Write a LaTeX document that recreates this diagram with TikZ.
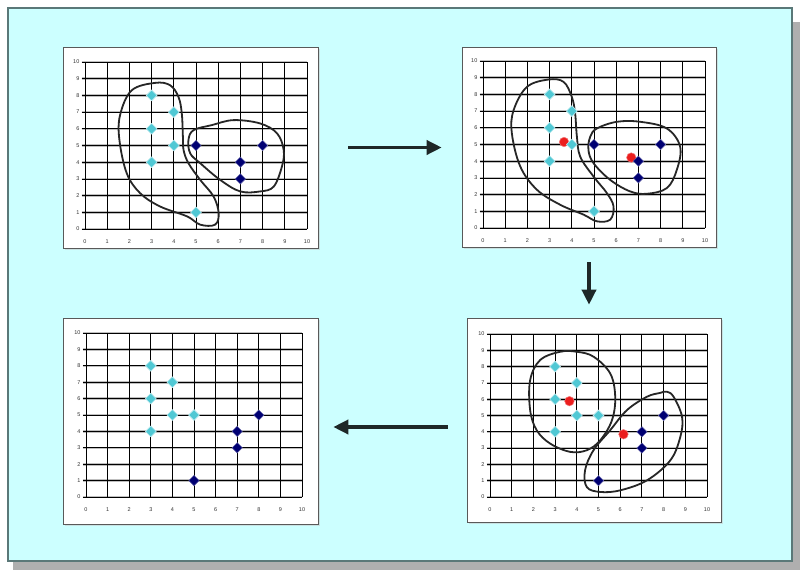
\documentclass[tikz,border=0pt]{standalone}
\usepackage{fontspec}
\setmainfont{Liberation Sans}
\definecolor{kmbg}{RGB}{204,255,255}
\definecolor{kmframe}{RGB}{90,120,120}
\definecolor{kmshadow}{RGB}{175,175,175}
\definecolor{kmcyan}{RGB}{80,200,212}
\definecolor{kmnavy}{RGB}{0,0,115}
\definecolor{kmred}{RGB}{235,30,30}
\definecolor{kmarrow}{RGB}{30,40,40}
\usetikzlibrary{arrows.meta,positioning,shapes.geometric,shadows}

% grid with axis labels, #1 = panel prefix
\newcommand{\kmgrid}[1]{%
  \foreach \k in {0,...,10} {
    \draw[gray!50,line width=2.6pt] (-0.15,\k) -- (10,\k);
    \draw[black,line width=0.75pt] (-0.15,\k) -- (10,\k);
    \node[ticklbl,anchor=east] (#1y\k) at (-0.2,\k) {\k};
  }
  \foreach \k in {0,...,10} {
    \draw[black,line width=1pt] (\k,0) -- (\k,10);
    \node[ticklbl] (#1x\k) at (\k,-0.78) {\k};
  }
}

\begin{document}
\begin{tikzpicture}[x=1pt,y=-1pt,
  panel/.style={draw=gray!70!black,fill=white,line width=0.6pt,inner sep=0pt,
    drop shadow={shadow xshift=1.5pt,shadow yshift=-1.5pt,fill=gray!45}},
  ticklbl/.style={font=\fontsize{5.5}{6}\selectfont,text=gray!40!black,inner sep=1pt},
  ptc/.style={diamond,fill=kmcyan,draw=kmcyan!40!white,line width=0.6pt,
    minimum size=11pt,inner sep=0pt},
  ptn/.style={diamond,fill=kmnavy,draw=kmnavy!60!white,line width=0.4pt,
    minimum size=10.5pt,inner sep=0pt},
  cent/.style={circle,fill=kmred,draw=kmred!60!white,line width=0.5pt,
    minimum size=9.5pt,inner sep=0pt},
  outline/.style={draw=black!85,line width=1.8pt},
  flow/.style={-{Triangle[length=15pt,width=14pt]},line width=3.5pt,kmarrow}
]
  \useasboundingbox (0,0) rectangle (800,570);
  % background sheet
  \fill[kmshadow] (13,22) rectangle (800,570);
  \draw[kmframe,fill=kmbg,line width=1.2pt] (8,8) rectangle (792,561);

  % chart panels
  \node[panel,minimum width=255pt,minimum height=201pt] (p1) at (190.5,147.5) {};
  \node[panel,minimum width=254pt,minimum height=200pt] (p2) at (589,147) {};
  \node[panel,minimum width=254pt,minimum height=204pt] (p3) at (594,420) {};
  \node[panel,minimum width=255pt,minimum height=206pt] (p4) at (190.5,421) {};

  % step 1: initial clusters
  \begin{scope}[shift={(85pt,-229pt)},x=22.2pt,y=16.7pt]
    \kmgrid{a}
    \draw[outline] plot[smooth cycle,tension=0.6] coordinates {(3.16,8.75) (3.83,8.61)
      (4.21,7.91) (4.36,6.92) (4.41,5.53) (4.44,4.73) (4.66,3.94) (5.19,2.94) (5.79,1.95)
      (6.02,0.95) (5.86,0.26) (5.19,0.26) (4.59,0.76) (3.38,1.35) (2.48,2.15) (1.88,3.34)
      (1.55,5.33) (1.58,6.82) (2.1,8.3)};
    \draw[outline] plot[smooth cycle,tension=0.6] coordinates {(4.89,5.92) (5.71,6.22)
      (6.69,6.52) (7.89,6.32) (8.65,5.73) (8.95,4.73) (8.87,3.74) (8.5,2.54) (7.89,2.25)
      (6.99,2.25) (6.09,2.94) (5.19,3.94) (4.74,4.53) (4.66,5.33)};
    \foreach \px/\py [count=\i] in {3/8,4/7,3/6,4/5,3/4,5/1}
      \node[ptc] (ac\i) at (\px,\py) {};
    \foreach \px/\py [count=\i] in {5/5,7/4,7/3,8/5}
      \node[ptn] (an\i) at (\px,\py) {};
  \end{scope}

  % step 2: centroids
  \begin{scope}[shift={(483pt,-228pt)},x=22.2pt,y=16.7pt]
    \kmgrid{b}
    \draw[outline] plot[smooth cycle,tension=0.6] coordinates {(2.95,8.89) (3.63,8.75)
      (4.0,7.85) (4.15,6.86) (4.23,5.47) (4.38,4.27) (4.98,3.08) (5.58,2.09) (5.88,1.29)
      (5.73,0.5) (5.13,0.4) (4.53,0.8) (3.48,1.39) (2.43,2.29) (1.68,3.68) (1.3,5.67)
      (1.38,7.06) (1.98,8.45)};
    \draw[outline] plot[smooth cycle,tension=0.6] coordinates {(4.83,5.47) (5.13,5.96)
      (6.03,6.36) (7.08,6.36) (8.28,5.96) (8.88,4.87) (8.73,3.48) (8.28,2.39) (7.38,2.05)
      (6.63,2.19) (5.73,2.88) (4.98,3.88) (4.75,4.67)};
    \node[cent] (bm1) at (3.65,5.15) {};
    \node[cent] (bm2) at (6.68,4.22) {};
    \foreach \px/\py [count=\i] in {3/8,4/7,3/6,4/5,3/4,5/1}
      \node[ptc] (bc\i) at (\px,\py) {};
    \foreach \px/\py [count=\i] in {5/5,7/4,7/3,8/5}
      \node[ptn] (bn\i) at (\px,\py) {};
  \end{scope}

  % step 3: reassigned clusters
  \begin{scope}[shift={(490pt,-497pt)},x=21.7pt,y=16.3pt]
    \kmgrid{c}
    \draw[outline] plot[smooth cycle,tension=0.6] coordinates {(3.23,8.91) (4.0,8.91)
      (4.77,8.61) (5.54,7.58) (5.77,6.15) (5.62,4.71) (5.08,3.48) (4.46,2.87) (3.69,2.77)
      (2.77,3.28) (2.15,4.1) (1.85,5.33) (1.85,7.17) (2.31,8.4)};
    \draw[outline] plot[smooth cycle,tension=0.6] coordinates {(7.85,6.39) (8.15,6.46)
      (8.46,6.15) (8.85,4.92) (8.77,3.69) (8.31,2.25) (7.23,1.02) (6.0,0.41) (5.08,0.31)
      (4.46,0.61) (4.38,1.64) (4.77,2.87) (5.54,4.1) (6.31,5.33) (7.23,6.15)};
    \node[cent] (cm1) at (3.66,5.88) {};
    \node[cent] (cm2) at (6.15,3.85) {};
    \foreach \px/\py [count=\i] in {3/8,4/7,3/6,4/5,5/5,3/4}
      \node[ptc] (cc\i) at (\px,\py) {};
    \foreach \px/\py [count=\i] in {7/4,7/3,8/5,5/1}
      \node[ptn] (cn\i) at (\px,\py) {};
  \end{scope}

  % step 4: final result
  \begin{scope}[shift={(86pt,-497pt)},x=21.6pt,y=16.4pt]
    \kmgrid{d}
    \foreach \px/\py [count=\i] in {3/8,4/7,3/6,4/5,5/5,3/4}
      \node[ptc] (dc\i) at (\px,\py) {};
    \foreach \px/\py [count=\i] in {7/4,7/3,8/5,5/1}
      \node[ptn] (dn\i) at (\px,\py) {};
  \end{scope}

  % arrows between steps
  \draw[flow,shorten <=30pt,shorten >=20pt] (p1.east) -- (p1.east -| p2.west);
  \draw[flow,shorten <=15pt,shorten >=13pt] (p2.south) -- (p2.south |- p3.north);
  \draw[flow,shorten <=19pt,shorten >=15pt] ([yshift=-7pt]p3.west) -- ([yshift=-7pt]p3.west -| p4.east);
\end{tikzpicture}
\end{document}
